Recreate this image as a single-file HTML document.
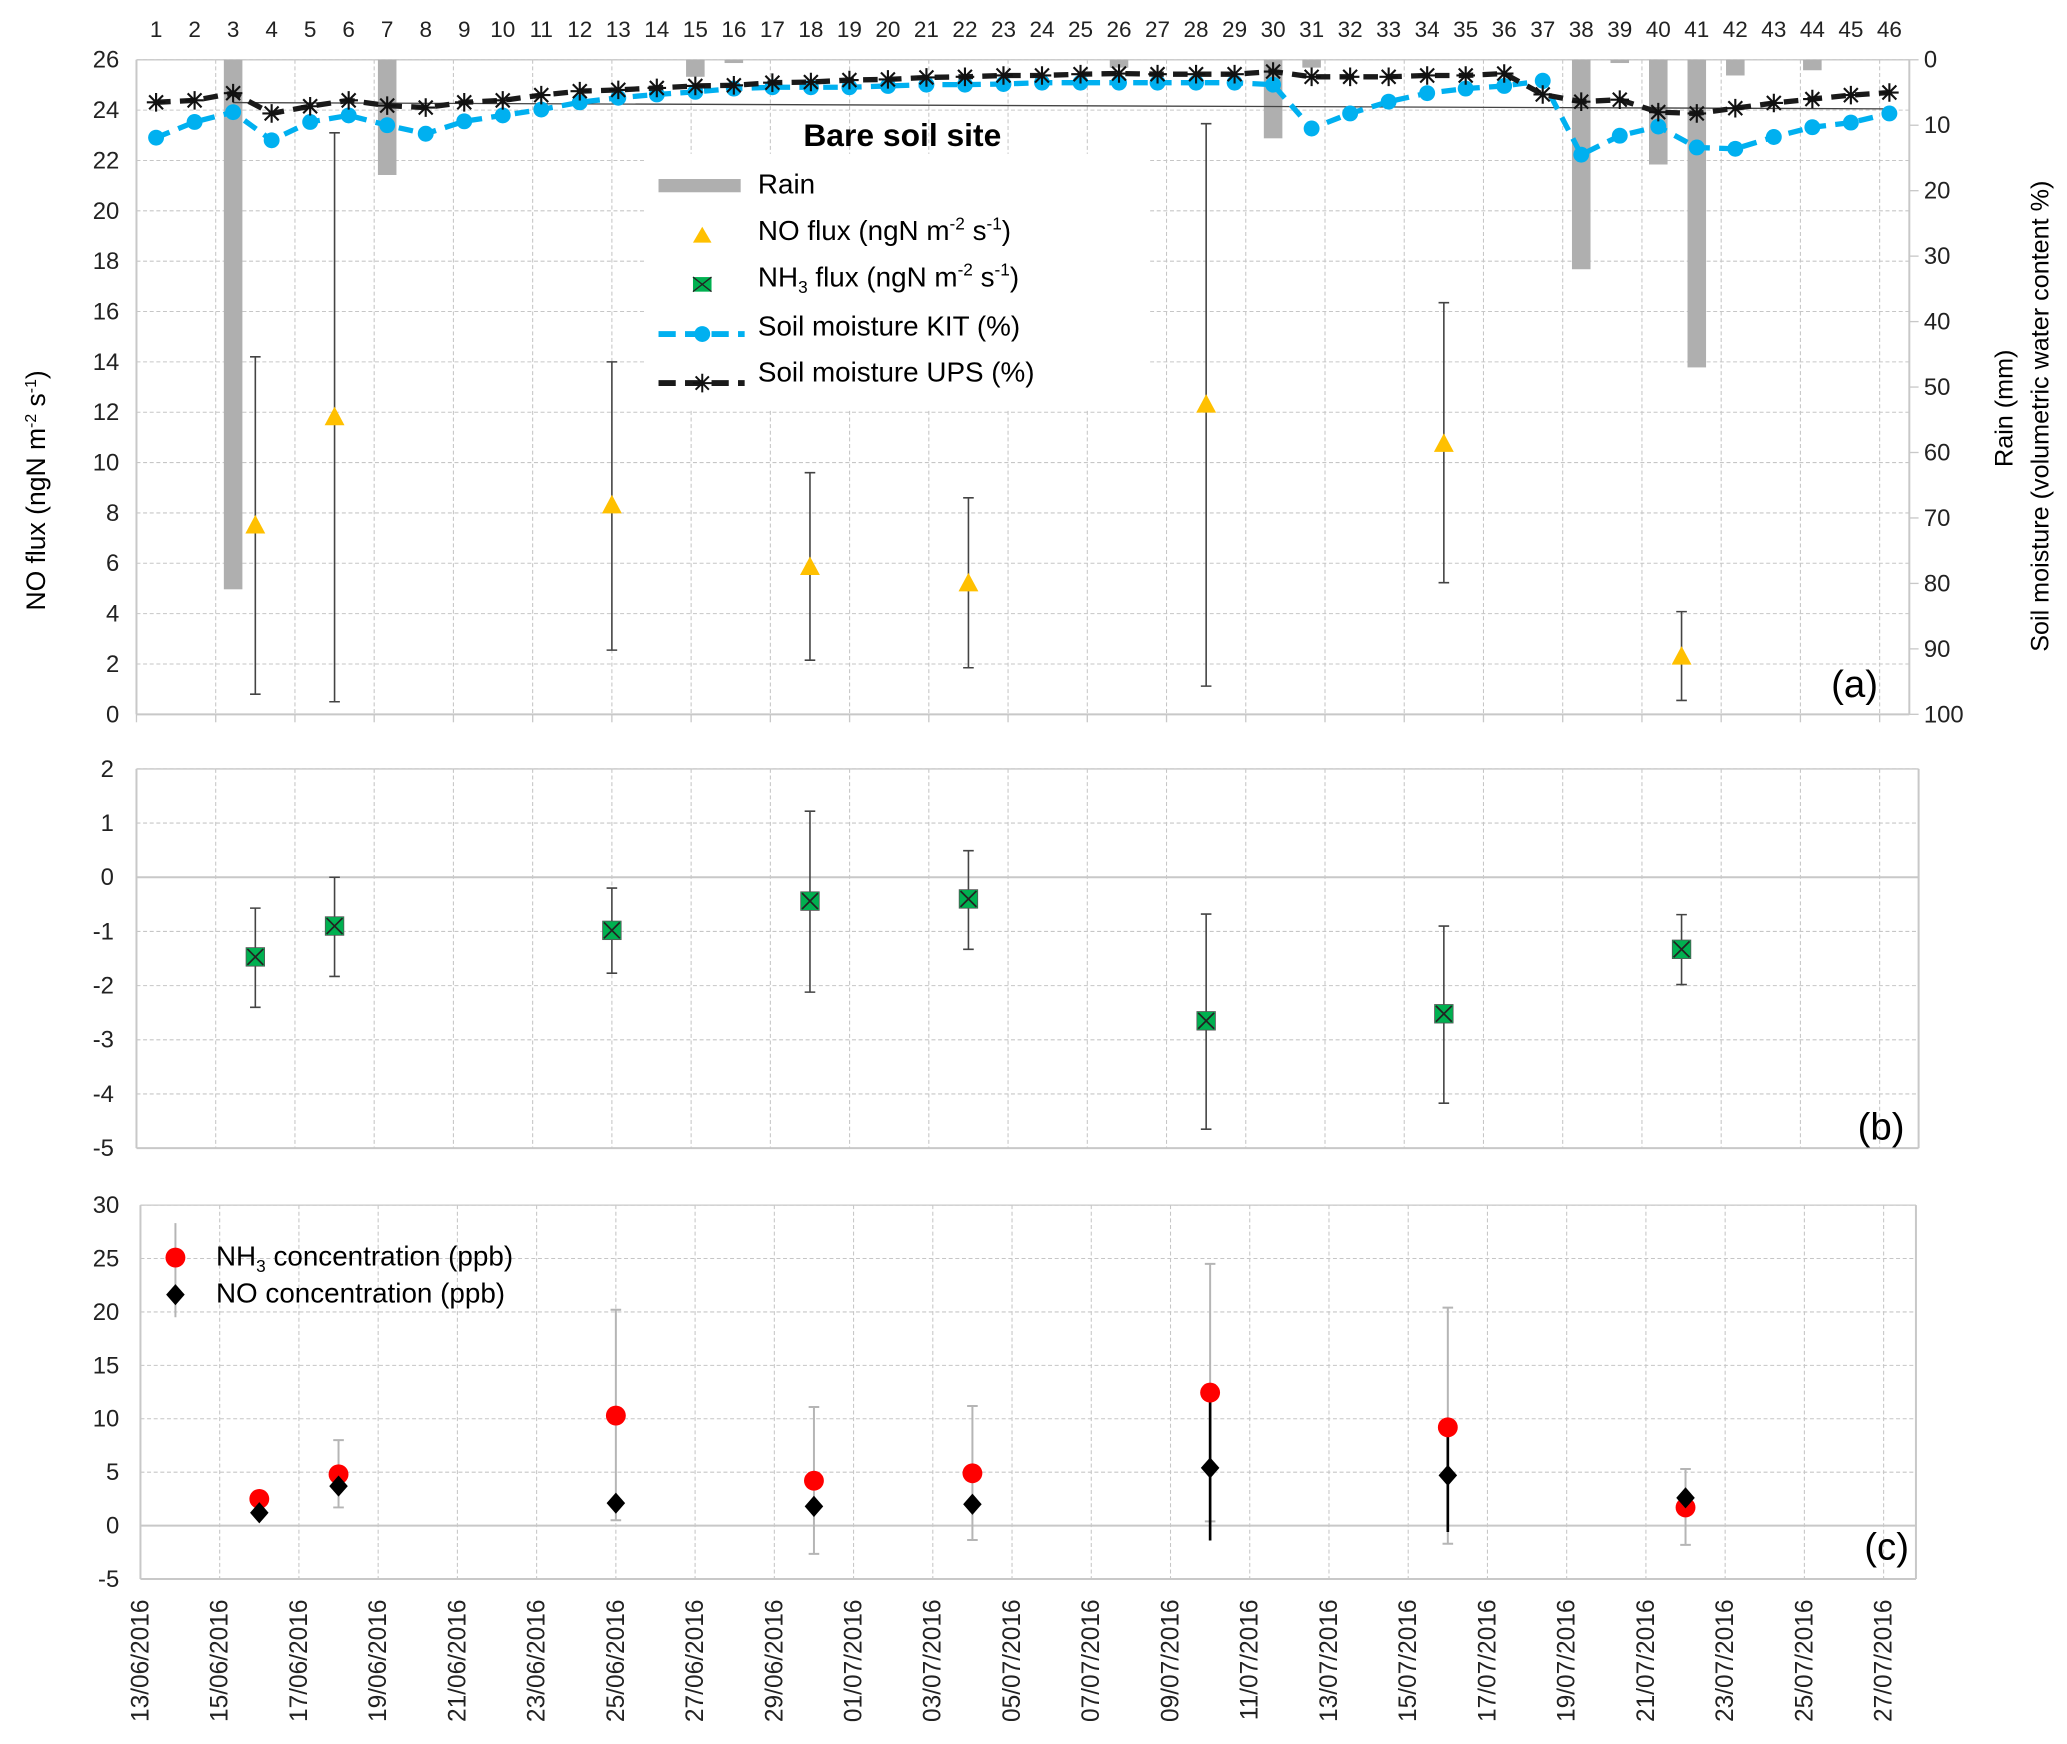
<!DOCTYPE html>
<html><head><meta charset="utf-8">
<style>
html,body{margin:0;padding:0;background:#fff;}
svg{display:block;font-family:"Liberation Sans",sans-serif;}
</style></head>
<body>
<svg id="chart" xmlns="http://www.w3.org/2000/svg" width="2067" height="1744" viewBox="0 0 1560 1316">
<g id="grid"></g>
<g id="marks"></g>
<g id="labels"></g>
</svg>
<script>
// ---- data ----
const rainIdx = [3,7,15,16,26,30,31,38,39,40,41,42,44];
const rainMm = [80.9,17.6,2.6,0.5,1.2,12,1.2,32,0.5,16,47,2.4,1.6];
const upsPct = [6.5,6.2,5.1,8.2,7.1,6.2,7.0,7.3,6.5,6.2,5.4,4.8,4.6,4.3,4.0,3.9,3.5,3.4,3.1,3.0,2.7,2.6,2.4,2.4,2.2,2.1,2.2,2.2,2.2,1.8,2.6,2.6,2.6,2.4,2.4,2.1,5.3,6.4,6.1,8.0,8.2,7.4,6.6,6.0,5.4,5.0];
const kitPct = [11.9,9.5,8.0,12.3,9.5,8.5,10.0,11.3,9.4,8.5,7.6,6.5,5.8,5.3,4.9,4.4,4.2,4.2,4.2,4.0,3.8,3.8,3.7,3.5,3.5,3.5,3.5,3.5,3.5,3.8,10.5,8.2,6.4,5.1,4.4,4.0,3.2,14.5,11.6,10.2,13.4,13.6,11.8,10.3,9.6,8.2];
const noDays = [3,5,12,17,21,27,33,39];
const noFlux = [7.5,11.8,8.3,5.85,5.2,12.3,10.74,2.29];
const noFluxHi = [14.2,23.1,14.0,9.6,8.6,23.46,16.35,4.08];
const noFluxLo = [0.8,0.5,2.55,2.15,1.85,1.12,5.23,0.55];
const nh3Flux = [-1.47,-0.9,-0.98,-0.44,-0.4,-2.65,-2.52,-1.33];
const nh3FluxHi = [-0.57,0.0,-0.2,1.22,0.49,-0.68,-0.9,-0.69];
const nh3FluxLo = [-2.4,-1.83,-1.77,-2.12,-1.33,-4.65,-4.17,-1.98];
const nh3Conc = [2.5,4.8,10.3,4.2,4.9,12.45,9.2,1.7];
const nh3ConcHi = [2.5,8.0,20.2,11.1,11.2,24.5,20.4,5.3];
const nh3ConcLo = [2.5,1.7,0.5,-2.65,-1.35,0.4,-1.7,-1.8];
const noConc = [1.2,3.7,2.1,1.8,2.0,5.4,4.7,2.6];
const noConcLo = [1.2,3.7,2.1,1.8,2.0,-1.4,-0.6,2.6];
const dateLabels = ["13/06/2016","15/06/2016","17/06/2016","19/06/2016","21/06/2016","23/06/2016","25/06/2016","27/06/2016","29/06/2016","01/07/2016","03/07/2016","05/07/2016","07/07/2016","09/07/2016","11/07/2016","13/07/2016","15/07/2016","17/07/2016","19/07/2016","21/07/2016","23/07/2016","25/07/2016","27/07/2016"];
const aTicks = [0,2,4,6,8,10,12,14,16,18,20,22,24,26];
const rTicks = [0,10,20,30,40,50,60,70,80,90,100];
const bTicks = [2,1,0,-1,-2,-3,-4,-5];
const cTicks = [30,25,20,15,10,5,0,-5];

// ---- scales ----
const A = {l:103, r:1441, t:45, b:539};
const B = {l:103, r:1448, t:580.2, b:866.4};
const C = {l:106, r:1446, t:909.4, b:1191.6};
const DAY = 29.9;
const xa = d => A.l + d*DAY;
const xc = d => C.l + d*DAY;
const xi = i => 117.8 + (i-1)*29.07;
const ya = v => A.b - v/26*(A.b-A.t);
const yr = p => A.t + p/100*(A.b-A.t);
const yb = v => B.t + (2-v)/7*(B.b-B.t);
const yc = v => C.t + (30-v)/35*(C.b-C.t);

const NS = "http://www.w3.org/2000/svg";
function mk(parent, tag, attrs, text){
  const e = document.createElementNS(NS, tag);
  for (const k in attrs) e.setAttribute(k, attrs[k]);
  if (text !== undefined) e.textContent = text;
  document.getElementById(parent).appendChild(e);
  return e;
}
const GRID = "#c6c6c6", AX = "#c8c8c8";

// ---- gridlines & axes ----
function panelGrid(P, xf, yvals, yf, name){
  for (let d=2; d<=44; d+=2){
    const g = mk('grid','line',{x1:xf(d),x2:xf(d),y1:P.t,y2:P.b,stroke:GRID,'stroke-width':0.8,'stroke-dasharray':'3,2'});
    
    
  }
  yvals.forEach(v=>{
    const g = mk('grid','line',{x1:P.l,x2:P.r,y1:yf(v),y2:yf(v),stroke:GRID,'stroke-width':0.8,'stroke-dasharray':'3,2'});
    
    
  });
  const ax = mk('grid','line',{x1:P.l,x2:P.l,y1:P.t,y2:P.b,stroke:AX,'stroke-width':1.5});
  
  
  const bx = mk('grid','line',{x1:P.l,x2:P.r,y1:P.b,y2:P.b,stroke:AX,'stroke-width':1.5});
  
  
  const rx = mk('grid','line',{x1:P.r,x2:P.r,y1:P.t,y2:P.b,stroke:AX,'stroke-width':1.5});
  
  
}
panelGrid(A, xa, aTicks, ya, 'panel-a');
panelGrid(B, xa, bTicks, yb, 'panel-b');
panelGrid(C, xc, cTicks, yc, 'panel-c');
[[B,yb(0)],[C,yc(0)]].forEach(([P,y])=>{
  const z = mk('grid','line',{x1:P.l,x2:P.r,y1:y,y2:y,stroke:AX,'stroke-width':1.5});
  
  
});
[[A,A.t],[B,B.t],[C,C.t]].forEach(([P,y])=>{
  const z = mk('grid','line',{x1:P.l,x2:P.r,y1:y,y2:y,stroke:AX,'stroke-width':1});
  
  
});
for (let d=0; d<=44; d+=2){
  const t = mk('grid','line',{x1:xa(d),x2:xa(d),y1:A.b,y2:A.b+6,stroke:AX,'stroke-width':1});
  
  
}

// ---- tick labels ----
const tickStyle = {'font-size':18,fill:'#222','text-anchor':'end'};
aTicks.forEach(v=>{
  const t = mk('labels','text',Object.assign({x:90,y:ya(v)+6},tickStyle),String(v));
  
  
});
rTicks.forEach(v=>{
  const t = mk('labels','text',{x:1452,y:yr(v)+6,'font-size':18,fill:'#222'},String(v));
  
  
  const tk = mk('grid','line',{x1:A.r,x2:A.r+7,y1:yr(v),y2:yr(v),stroke:AX,'stroke-width':1});
  
  
});
bTicks.forEach(v=>{
  const t = mk('labels','text',Object.assign({x:86,y:yb(v)+6},tickStyle),String(v));
  
  
});
cTicks.forEach(v=>{
  const t = mk('labels','text',Object.assign({x:90,y:yc(v)+6},tickStyle),String(v));
  
  
});
for (let i=1;i<=46;i++){
  const t = mk('labels','text',{x:xi(i),y:28,'font-size':17,fill:'#222','text-anchor':'middle'},String(i));
  
  
}
dateLabels.forEach((s,k)=>{
  const x = xc(k*2)+6;
  const t = mk('labels','text',{x:x,y:1207,'font-size':18.5,fill:'#222','text-anchor':'end',transform:`rotate(-90 ${x} 1207)`},s);
  
  
});

// ---- panel a marks ----
rainIdx.forEach((i,k)=>{
  const r = mk('marks','rect',{x:xi(i)-7,y:A.t,width:14,height:yr(rainMm[k])-A.t,fill:'#afafaf'});
  
  
});
{
  const l = mk('marks','line',{x1:xi(3),x2:xi(46),y1:ya(24.3),y2:ya(24.05),stroke:'#444','stroke-width':1});
  
  
}
{
  const bg = mk('marks','rect',{x:487,y:116,width:381,height:193,fill:'#fff'});
  
  
}
{
  const pts = kitPct.map((p,k)=>`${xi(k+1)},${yr(p)}`).join(' ');
  const l = mk('marks','polyline',{points:pts,fill:'none',stroke:'#00b0f0','stroke-width':4,'stroke-dasharray':'11,7'});
  
  
  kitPct.forEach((p,k)=>{
    const c = mk('marks','circle',{cx:xi(k+1),cy:yr(p),r:6,fill:'#00b0f0'});
    
    
  });
}
function star(g,x,y,s,sw){
  return mk(g,'path',{d:`M${x-s} ${y}H${x+s}M${x} ${y-s}V${y+s}M${x-s*0.75} ${y-s*0.75}L${x+s*0.75} ${y+s*0.75}M${x-s*0.75} ${y+s*0.75}L${x+s*0.75} ${y-s*0.75}`,stroke:'#111','stroke-width':sw,fill:'none'});
}
{
  const pts = upsPct.map((p,k)=>`${xi(k+1)},${yr(p)}`).join(' ');
  const l = mk('marks','polyline',{points:pts,fill:'none',stroke:'#1a1a1a','stroke-width':4,'stroke-dasharray':'11,7'});
  
  
  upsPct.forEach((p,k)=>{
    const s = star('marks',xi(k+1),yr(p),7,1.6);
    
    
  });
}
function errbar(g,x,y1,y2,color,w,name){
  const e = mk(g,'path',{d:`M${x} ${y1}V${y2}M${x-4} ${y1}H${x+4}M${x-4} ${y2}H${x+4}`,stroke:color,'stroke-width':w,fill:'none'});
  
  
}
noDays.forEach((d,k)=>{
  errbar('marks',xa(d),ya(noFluxHi[k]),ya(noFluxLo[k]),'#444',1.2,'no-flux-error-bar');
  const x=xa(d), y=ya(noFlux[k]);
  const t = mk('marks','polygon',{points:`${x},${y-8} ${x-7.5},${y+6} ${x+7.5},${y+6}`,fill:'#ffc000'});
  
  
});

// ---- panel b marks ----
noDays.forEach((d,k)=>{
  errbar('marks',xa(d),yb(nh3FluxHi[k]),yb(nh3FluxLo[k]),'#444',1.2,'nh3-flux-error-bar');
  const x=xa(d), y=yb(nh3Flux[k]);
  const r = mk('marks','rect',{x:x-7,y:y-7,width:14,height:14,fill:'#00b050',stroke:'#555','stroke-width':0.6});
  
  
  const c = mk('marks','path',{d:`M${x-6} ${y-6}L${x+6} ${y+6}M${x-6} ${y+6}L${x+6} ${y-6}`,stroke:'#222','stroke-width':1.3});
  
  
});

// ---- panel c marks ----
noDays.forEach((d,k)=>{
  const x = xc(d);
  if (nh3ConcHi[k]!==nh3ConcLo[k]) errbar('marks',x,yc(nh3ConcHi[k]),yc(nh3ConcLo[k]),'#b5b5b5',1.5,'nh3-conc-error-bar');
  if (noConcLo[k]!==noConc[k]){
    const e = mk('marks','line',{x1:x,x2:x,y1:yc(nh3Conc[k]),y2:yc(noConcLo[k]),stroke:'#000','stroke-width':2});
    
    
  }
  const c = mk('marks','circle',{cx:x,cy:yc(nh3Conc[k]),r:7.5,fill:'#ff0000'});
  
  
  const y = yc(noConc[k]);
  const dm = mk('marks','polygon',{points:`${x},${y-8} ${x+7},${y} ${x},${y+8} ${x-7},${y}`,fill:'#000'});
  
  
});
</script>
<svg style="position:absolute;left:0;top:0" width="2067" height="1744" viewBox="0 0 1560 1316">
  <g font-family="Liberation Sans, sans-serif" fill="#000">
    <text x="681" y="110" font-size="24" font-weight="bold" text-anchor="middle">Bare soil site</text>
    <rect x="497" y="135" width="62" height="10" fill="#afafaf"/>
    <text x="572" y="146" font-size="21">Rain</text>
    <polygon points="530,171 523,183 537,183" fill="#ffc000"/>
    <text x="572" y="181" font-size="21">NO flux (ngN m<tspan font-size="13" dy="-8">-2</tspan><tspan dy="8"> s</tspan><tspan font-size="13" dy="-8">-1</tspan><tspan dy="8">)</tspan></text>
    <rect x="523" y="209" width="14" height="11" fill="#00b050"/>
    <path d="M523 209L537 220M523 220L537 209" stroke="#222" stroke-width="1"/>
    <text x="572" y="216" font-size="21">NH<tspan font-size="13" dy="5">3</tspan><tspan dy="-5"> flux (ngN m</tspan><tspan font-size="13" dy="-8">-2</tspan><tspan dy="8"> s</tspan><tspan font-size="13" dy="-8">-1</tspan><tspan dy="8">)</tspan></text>
    <line x1="497" x2="562" y1="252" y2="252" stroke="#00b0f0" stroke-width="4.5" stroke-dasharray="13,7"/>
    <circle cx="530" cy="252" r="6" fill="#00b0f0"/>
    <text x="572" y="253" font-size="21">Soil moisture KIT (%)</text>
    <line x1="497" x2="562" y1="289" y2="289" stroke="#1a1a1a" stroke-width="4.5" stroke-dasharray="13,7"/>
    <path d="M523 289H537M530 282V296M525 284L535 294M525 294L535 284" stroke="#111" stroke-width="1.5"/>
    <text x="572" y="288" font-size="21">Soil moisture UPS (%)</text>

    <text transform="translate(34 370) rotate(-90)" font-size="20" text-anchor="middle">NO flux (ngN m<tspan font-size="12" dy="-7">-2</tspan><tspan dy="7"> s</tspan><tspan font-size="12" dy="-7">-1</tspan><tspan dy="7">)</tspan></text>
    <text transform="translate(1519 308) rotate(-90)" font-size="19" text-anchor="middle">Rain (mm)</text>
    <text transform="translate(1546 314) rotate(-90)" font-size="19" text-anchor="middle">Soil moisture (volumetric water content %)</text>

    <text x="1382" y="526" font-size="29">(a)</text>
    <text x="1402" y="860" font-size="29">(b)</text>
    <text x="1407" y="1177" font-size="29">(c)</text>

    <line x1="132.4" x2="132.4" y1="923" y2="994" stroke="#b5b5b5" stroke-width="1.5"/>
    <circle cx="132.4" cy="949" r="7.5" fill="#ff0000"/>
    <polygon points="132.4,969 139.4,977 132.4,985 125.4,977" fill="#000"/>
    <text x="163" y="955" font-size="21">NH<tspan font-size="13" dy="5">3</tspan><tspan dy="-5"> concentration (ppb)</tspan></text>
    <text x="163" y="983" font-size="21">NO concentration (ppb)</text>
  </g>
</svg>
</body></html>
